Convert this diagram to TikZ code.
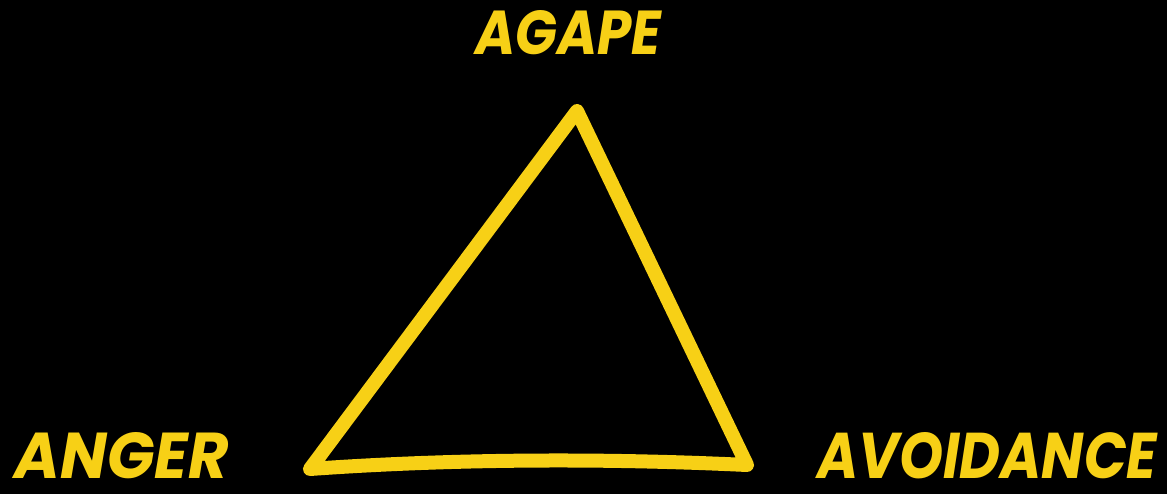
\documentclass[tikz,border=0pt]{standalone}
\usepackage{fontspec}
\setmainfont{Poppins}[BoldItalicFont={* Bold Italic}]
\usepackage{graphicx}
\definecolor{gold}{RGB}{247,208,22}
\begin{document}
\begin{tikzpicture}[x=1pt,y=-1pt,
  lbl/.style={inner sep=0pt,outer sep=0pt,text=gold,anchor=north west,font=\bfseries\itshape},
  tri/.style={draw=gold,line width=14pt,line join=round,line cap=round}]
\fill[black] (0,0) rectangle (1167,494);
\useasboundingbox (0,0) rectangle (1167,494);
\node[lbl] (agape) at (475,10) {\resizebox{186pt}{44pt}{AGAPE}};
\node[lbl] (anger) at (15,432) {\resizebox{214pt}{46pt}{ANGER}};
\node[lbl] (avoid) at (817,432) {\resizebox{340pt}{46pt}{AVOIDANCE}};
\coordinate (top) at (577,111);
\coordinate (bl) at (310,469);
\coordinate (br) at (747,465);
\draw[tri] (top) -- (br) .. controls (600,458) and (450,459) .. (bl) -- cycle;
\end{tikzpicture}
\end{document}
